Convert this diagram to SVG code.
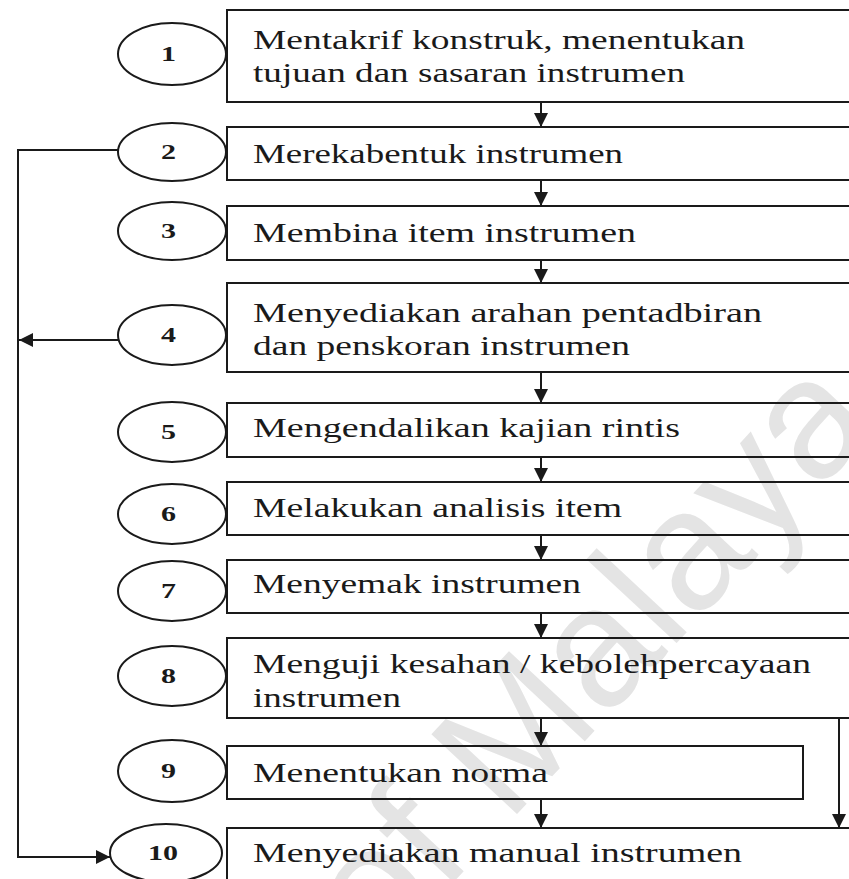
<svg xmlns="http://www.w3.org/2000/svg" width="849" height="879" viewBox="0 0 849 879">
  <style>
    .box { fill: none; stroke: #1a1a1a; stroke-width: 2; }
    .ring { fill: none; stroke: #1a1a1a; stroke-width: 2; }
    .label { font-family: "Liberation Serif", "Times New Roman", serif; font-size: 28px; fill: #1a1a1a; }
    .num { font-family: "Liberation Serif", "Times New Roman", serif; font-size: 21px; font-weight: bold; fill: #1a1a1a; }
    .wire { fill: none; stroke: #1a1a1a; stroke-width: 2; }
    .mark { font-family: "Liberation Sans", Arial, sans-serif; font-size: 170px; fill: #e4e4e4; }
  </style>
  <defs>
    <marker id="head" markerUnits="userSpaceOnUse" markerWidth="14" markerHeight="14" viewBox="0 0 12 12" refX="12" refY="6" orient="auto">
      <path d="M0,0 L12,6 L0,12 Z" fill="#1a1a1a"/>
    </marker>
  </defs>

  <rect width="849" height="879" fill="#ffffff"/>

  <!-- faint background watermark -->
  <text class="mark" x="630" y="693" text-anchor="middle" transform="rotate(-47 630 693)">of Malaya</text>

  <!-- step boxes with their numbered ellipses -->
  <g id="step1">
    <rect class="box" x="227" y="10" width="640" height="92"/>
    <ellipse class="ring" cx="172" cy="54" rx="54" ry="31"/>
    <text class="num" x="161" y="61" textLength="15" lengthAdjust="spacingAndGlyphs">1</text>
    <text class="label" x="253" y="49" textLength="492" lengthAdjust="spacingAndGlyphs">Mentakrif konstruk, menentukan</text>
    <text class="label" x="253" y="82" textLength="432" lengthAdjust="spacingAndGlyphs">tujuan dan sasaran instrumen</text>
  </g>
  <g id="step2">
    <rect class="box" x="227" y="127" width="640" height="53"/>
    <ellipse class="ring" cx="172" cy="152" rx="54" ry="29"/>
    <text class="num" x="161" y="159" textLength="15" lengthAdjust="spacingAndGlyphs">2</text>
    <text class="label" x="253" y="163" textLength="370" lengthAdjust="spacingAndGlyphs">Merekabentuk instrumen</text>
  </g>
  <g id="step3">
    <rect class="box" x="227" y="206" width="640" height="54"/>
    <ellipse class="ring" cx="172" cy="231" rx="54" ry="29"/>
    <text class="num" x="161" y="238" textLength="15" lengthAdjust="spacingAndGlyphs">3</text>
    <text class="label" x="253" y="242" textLength="383" lengthAdjust="spacingAndGlyphs">Membina item instrumen</text>
  </g>
  <g id="step4">
    <rect class="box" x="227" y="283" width="640" height="89"/>
    <ellipse class="ring" cx="172" cy="335" rx="54" ry="30"/>
    <text class="num" x="161" y="342" textLength="15" lengthAdjust="spacingAndGlyphs">4</text>
    <text class="label" x="253" y="322" textLength="509" lengthAdjust="spacingAndGlyphs">Menyediakan arahan pentadbiran</text>
    <text class="label" x="253" y="355" textLength="377" lengthAdjust="spacingAndGlyphs">dan penskoran instrumen</text>
  </g>
  <g id="step5">
    <rect class="box" x="227" y="403" width="640" height="54"/>
    <ellipse class="ring" cx="172" cy="432" rx="54" ry="30"/>
    <text class="num" x="161" y="439" textLength="15" lengthAdjust="spacingAndGlyphs">5</text>
    <text class="label" x="253" y="437" textLength="427" lengthAdjust="spacingAndGlyphs">Mengendalikan kajian rintis</text>
  </g>
  <g id="step6">
    <rect class="box" x="227" y="482" width="640" height="53"/>
    <ellipse class="ring" cx="172" cy="514" rx="54" ry="30"/>
    <text class="num" x="161" y="521" textLength="15" lengthAdjust="spacingAndGlyphs">6</text>
    <text class="label" x="253" y="517" textLength="369" lengthAdjust="spacingAndGlyphs">Melakukan analisis item</text>
  </g>
  <g id="step7">
    <rect class="box" x="227" y="560" width="640" height="53"/>
    <ellipse class="ring" cx="172" cy="591" rx="54" ry="30"/>
    <text class="num" x="161" y="598" textLength="15" lengthAdjust="spacingAndGlyphs">7</text>
    <text class="label" x="253" y="593" textLength="328" lengthAdjust="spacingAndGlyphs">Menyemak instrumen</text>
  </g>
  <g id="step8">
    <rect class="box" x="227" y="638" width="640" height="80"/>
    <ellipse class="ring" cx="172" cy="676" rx="54" ry="30"/>
    <text class="num" x="161" y="683" textLength="15" lengthAdjust="spacingAndGlyphs">8</text>
    <text class="label" x="253" y="673" textLength="558" lengthAdjust="spacingAndGlyphs">Menguji kesahan / kebolehpercayaan</text>
    <text class="label" x="253" y="707" textLength="148" lengthAdjust="spacingAndGlyphs">instrumen</text>
  </g>
  <g id="step9">
    <rect class="box" x="227" y="746" width="576" height="53"/>
    <ellipse class="ring" cx="172" cy="771" rx="54" ry="31"/>
    <text class="num" x="161" y="778" textLength="15" lengthAdjust="spacingAndGlyphs">9</text>
    <text class="label" x="253" y="782" textLength="295" lengthAdjust="spacingAndGlyphs">Menentukan norma</text>
  </g>
  <g id="step10">
    <rect class="box" x="227" y="828" width="640" height="80"/>
    <ellipse class="ring" cx="166" cy="853" rx="56" ry="29"/>
    <text class="num" x="148" y="860" textLength="30" lengthAdjust="spacingAndGlyphs">10</text>
    <text class="label" x="253" y="862" textLength="489" lengthAdjust="spacingAndGlyphs">Menyediakan manual instrumen</text>
  </g>

  <!-- flow arrows -->
  <g id="connectors">
    <line class="wire" x1="541" y1="102" x2="541" y2="127" marker-end="url(#head)"/>
    <line class="wire" x1="541" y1="180" x2="541" y2="206" marker-end="url(#head)"/>
    <line class="wire" x1="541" y1="260" x2="541" y2="283" marker-end="url(#head)"/>
    <line class="wire" x1="541" y1="372" x2="541" y2="403" marker-end="url(#head)"/>
    <line class="wire" x1="541" y1="457" x2="541" y2="482" marker-end="url(#head)"/>
    <line class="wire" x1="541" y1="535" x2="541" y2="560" marker-end="url(#head)"/>
    <line class="wire" x1="541" y1="613" x2="541" y2="638" marker-end="url(#head)"/>
    <line class="wire" x1="541" y1="718" x2="541" y2="746" marker-end="url(#head)"/>
    <line class="wire" x1="541" y1="799" x2="541" y2="828" marker-end="url(#head)"/>
    <!-- bypass from step 8 straight to step 10 -->
    <line class="wire" x1="839" y1="718" x2="839" y2="828" marker-end="url(#head)"/>
    <!-- feedback loop on the left -->
    <polyline class="wire" points="118,150 18,150 18,857 110,857" marker-end="url(#head)"/>
    <line class="wire" x1="118" y1="340" x2="19" y2="340" marker-end="url(#head)"/>
  </g>
</svg>
